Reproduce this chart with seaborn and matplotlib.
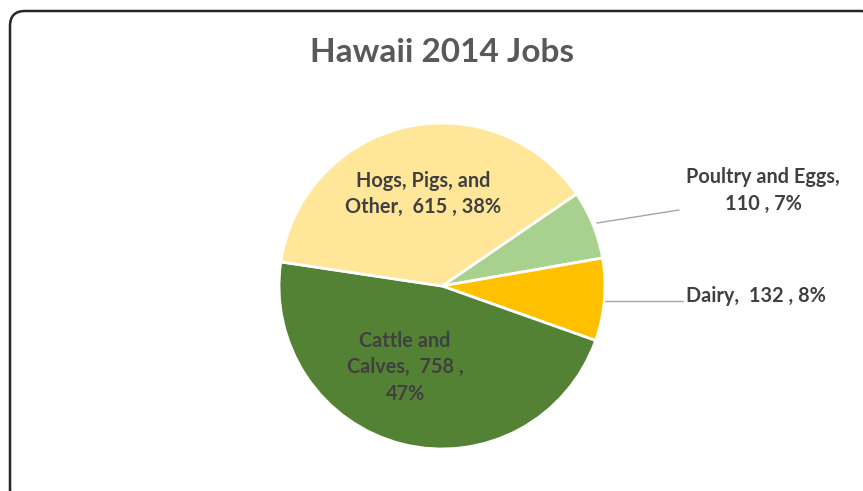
import matplotlib
matplotlib.use("Agg")
import matplotlib.pyplot as plt
import seaborn as sns
from matplotlib.patches import FancyBboxPatch

sns.set_theme(style="white")
plt.rcParams['font.family'] = ['Lato', 'DejaVu Sans']

# Data (clockwise order starting from the top-right edge of Poultry)
categories = ["Poultry and Eggs", "Dairy", "Cattle and Calves", "Hogs, Pigs, and Other"]
values = [110, 132, 758, 615]
percents = ["7%", "8%", "47%", "38%"]
colors = ["#A9D18E", "#FFC000", "#548235", "#FFE699"]

W, H = 863, 491
fig = plt.figure(figsize=(W / 100, H / 100), dpi=100)
ax = fig.add_axes([0, 0, 1, 1])

cx, cy, r = 442, 286, 163
wedges, _ = ax.pie(values, colors=colors, startangle=34.4, counterclock=False,
                   center=(cx, cy), radius=r, frame=True,
                   wedgeprops=dict(edgecolor="white", linewidth=2))
# y axis is inverted below (pixel-like coords) -> mirror wedge angles
for w in wedges:
    t1, t2 = w.theta1, w.theta2
    w.set_theta1(-t2)
    w.set_theta2(-t1)
ax.set_xlim(0, W)
ax.set_ylim(H, 0)
ax.set_aspect("equal")
ax.axis("off")

# frame
frame = FancyBboxPatch((10, 11), 865, 495, boxstyle="round,pad=0,rounding_size=15",
                       fill=False, edgecolor="#262626", linewidth=1.8, zorder=0,
                       clip_on=False)
ax.add_patch(frame)

txt = "#404040"
fs = 14.3
ax.text(442, 62, "Hawaii 2014 Jobs", ha="center", va="baseline", fontsize=24,
        fontweight="bold", color="#595959")

def lines(x, ys, strs, ha="center"):
    for y, s in zip(ys, strs):
        ax.text(x, y, s, ha=ha, va="baseline", fontsize=fs, fontweight="bold", color=txt)

lines(423, [187, 213], ["Hogs, Pigs, and", f"Other,  {values[3]} , {percents[3]}"])
lines(405, [347, 373, 400], ["Cattle and", f"Calves,  {values[2]} ,", percents[2]])
lines(763, [183, 210], ["Poultry and Eggs,", f"{values[0]} , {percents[0]}"])
lines(686, [302], [f"Dairy,  {values[1]} , {percents[1]}"], ha="left")

# leader lines
ax.plot([597, 679], [223, 210], color="#A6A6A6", linewidth=1)
ax.plot([605, 683], [301, 301], color="#A6A6A6", linewidth=1)

fig.savefig("out.png", dpi=100)
